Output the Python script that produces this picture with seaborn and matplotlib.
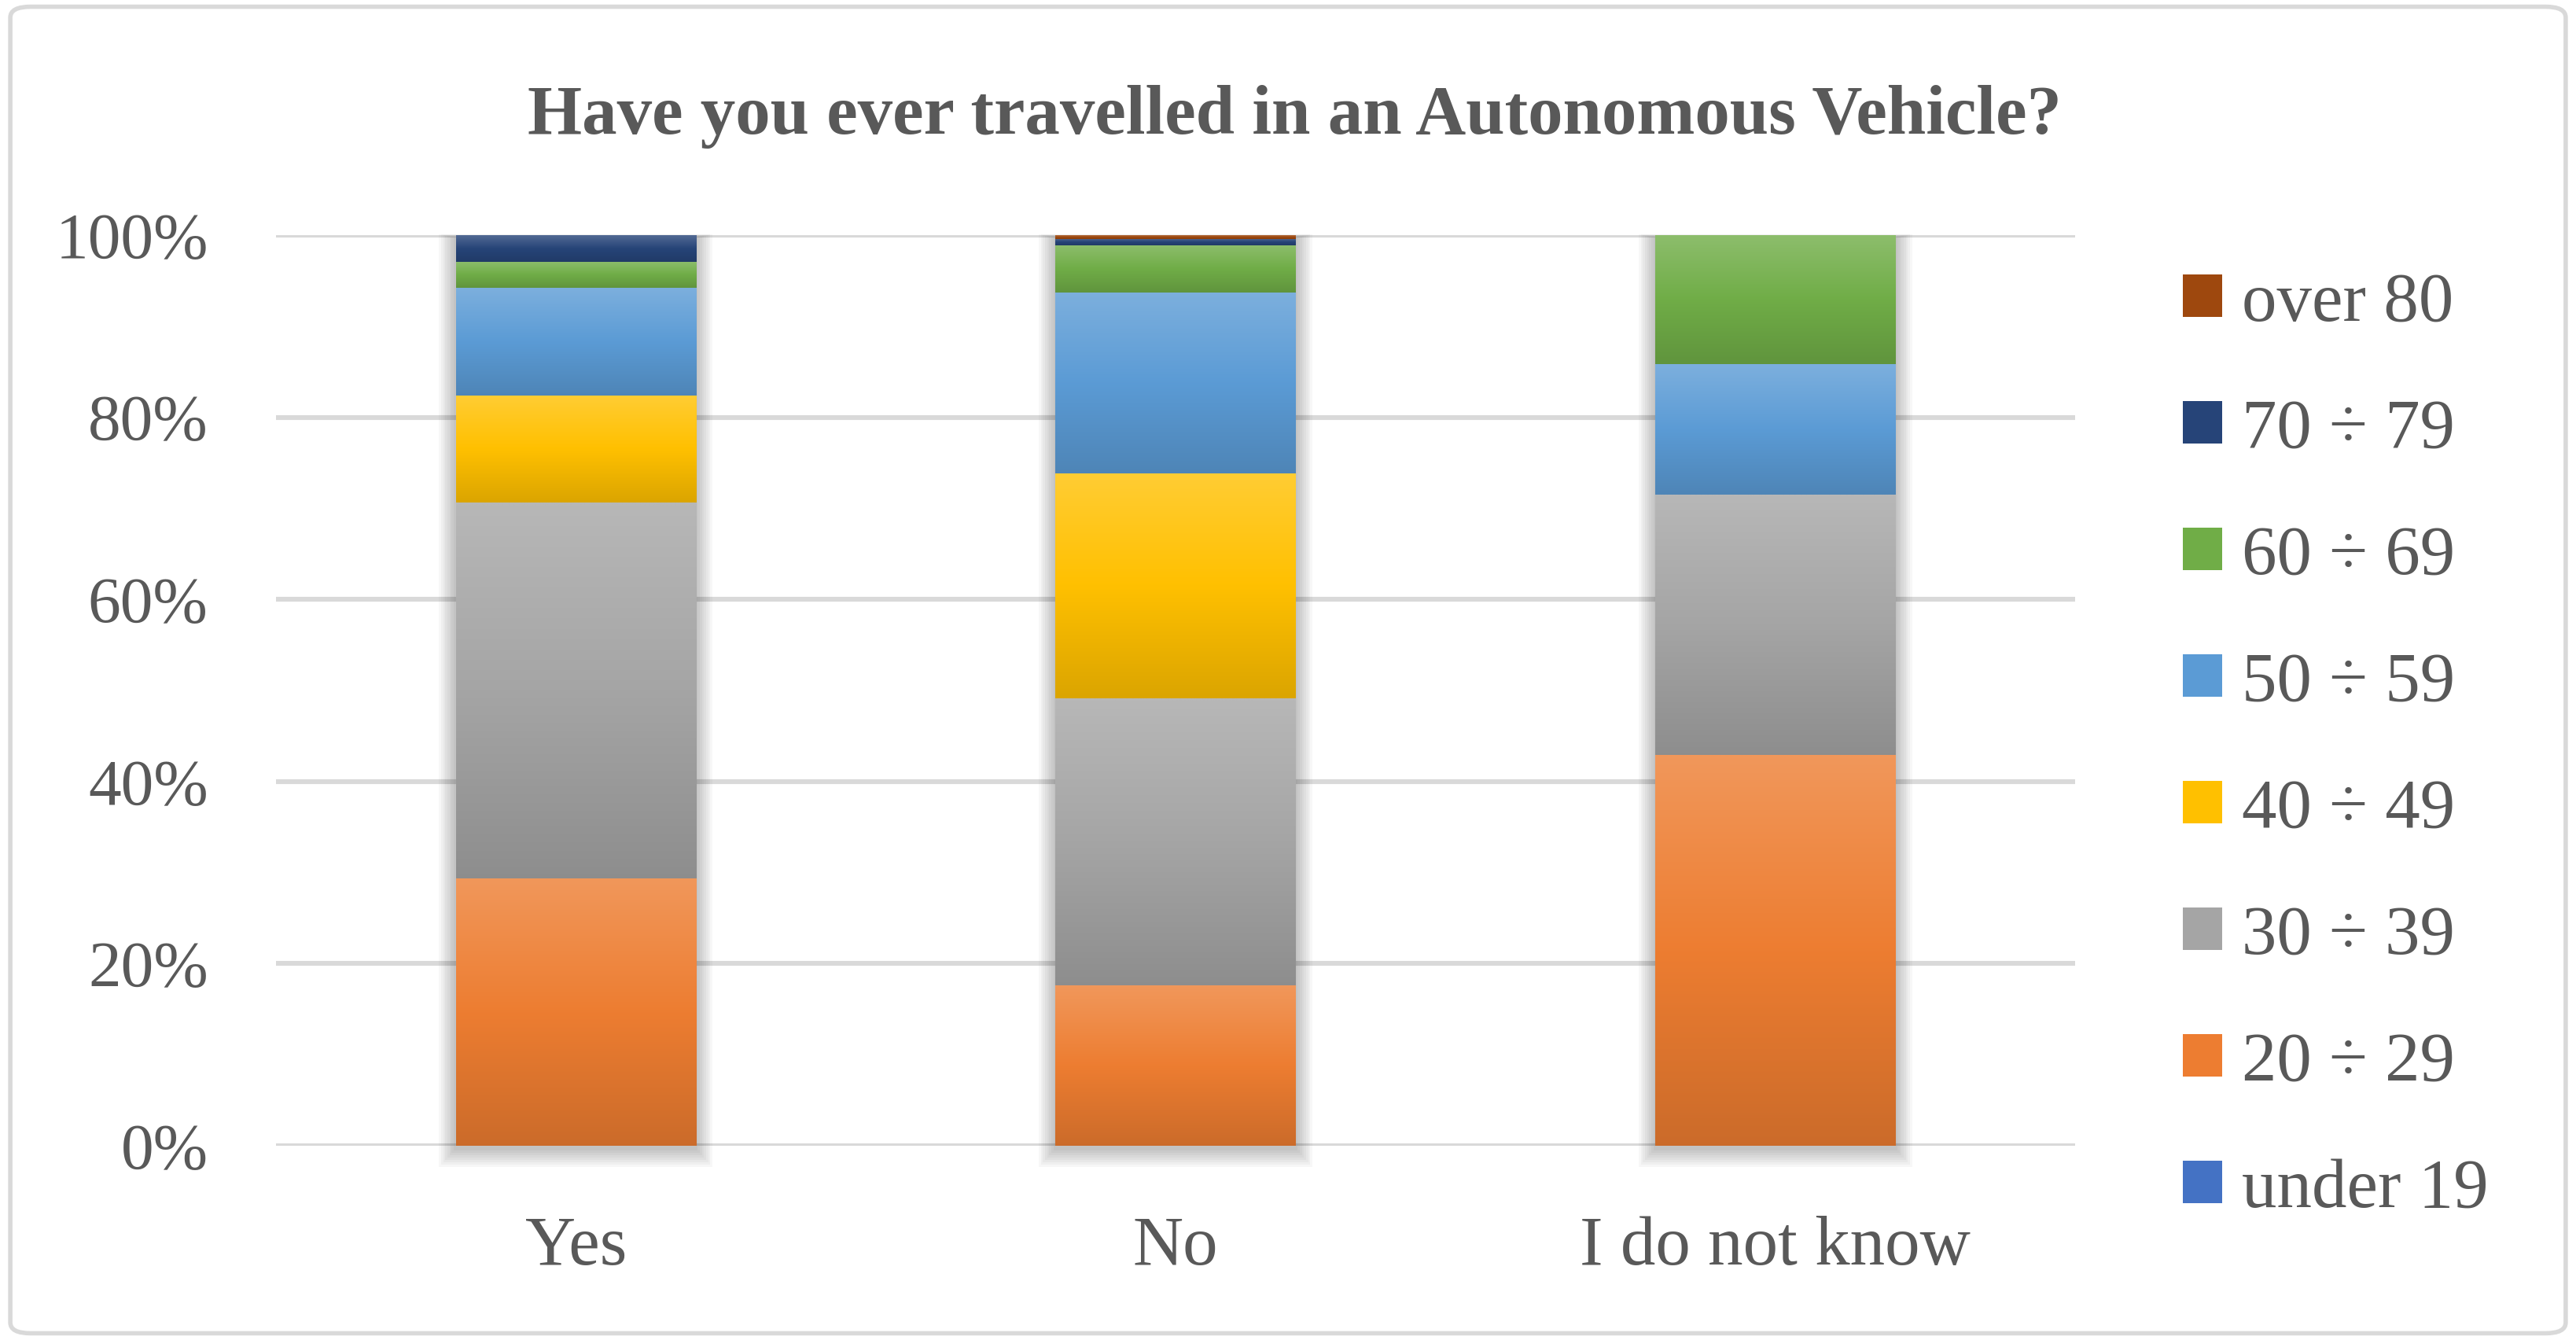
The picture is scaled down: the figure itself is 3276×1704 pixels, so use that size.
import numpy as np
import pandas as pd
import matplotlib
matplotlib.use("Agg")
import matplotlib.pyplot as plt
import seaborn as sns
from matplotlib.patches import FancyBboxPatch, Rectangle, Patch
from matplotlib.colors import to_rgb
from matplotlib.ticker import FuncFormatter

# ---------------- data (percent of respondents) ----------------
answers = ["Yes", "No", "I do not know"]
age_groups = ["under 19", "20 ÷ 29", "30 ÷ 39", "40 ÷ 49",
              "50 ÷ 59", "60 ÷ 69", "70 ÷ 79", "over 80"]
under_19 = [0.0, 0.0, 0.0]
age_20_29 = [29.4, 17.6, 42.9]
age_30_39 = [41.2, 31.5, 28.6]
age_40_49 = [11.8, 24.7, 0.0]
age_50_59 = [11.8, 19.9, 14.3]
age_60_69 = [2.9, 5.2, 14.2]
age_70_79 = [2.9, 0.7, 0.0]
over_80 = [0.0, 0.4, 0.0]
series = [under_19, age_20_29, age_30_39, age_40_49,
          age_50_59, age_60_69, age_70_79, over_80]
colors = ["#4472C4", "#ED7D31", "#A5A5A5", "#FFC000",
          "#5B9BD5", "#70AD47", "#264478", "#9E480E"]
yticks = [0, 20, 40, 60, 80, 100]
title = "Have you ever travelled in an Autonomous Vehicle?"

TXT = "#595959"
GRID = "#D9D9D9"
FONT = ["Liberation Serif", "DejaVu Serif"]

sns.set_theme(style="white")
plt.rcParams["font.family"] = FONT

fig = plt.figure(figsize=(16.38, 8.52), dpi=200)
ax = fig.add_axes([0.1071, 0.1450, 0.6985, 0.6795])

bottom = np.zeros(len(answers))
for name, vals, col in zip(age_groups, series, colors):
    df = pd.DataFrame({"answer": answers, "pct": vals})
    sns.barplot(data=df, x="answer", y="pct", order=answers, color=col,
                saturation=1, width=0.4, bottom=bottom.copy(),
                errorbar=None, linewidth=0, zorder=3, ax=ax)
    bottom += np.array(vals)

# gradient fill on each segment (lighter top, darker bottom)
def grad_colors(base, n=64):
    b = np.array(to_rgb(base))
    top = b + (1 - b) * 0.2
    bot = b * 0.86
    t = np.linspace(0, 1, n)[:, None]
    upper = top + (b - top) * np.clip(t * 2, 0, 1)
    lower = b + (bot - b) * np.clip(t * 2 - 1, 0, 1)
    out = np.where(t < 0.5, upper, lower)
    return out[:, None, :]

patches = [p for p in ax.patches if isinstance(p, Rectangle)]
extents = {}
for p in patches:
    h = p.get_height()
    if h <= 0:
        continue
    x, y, w = p.get_x(), p.get_y(), p.get_width()
    img = grad_colors(p.get_facecolor()[:3])
    im = ax.imshow(img, extent=(x, x + w, y, y + h), origin="upper",
                   aspect="auto", zorder=3.1, interpolation="bilinear")
    im.set_clip_path(p)
    key = round(x + w / 2, 3)
    lo, hi, xl, xr = extents.get(key, (1e9, -1e9, x, x + w))
    extents[key] = (min(lo, y), max(hi, y + h), xl, xr)

# soft shadow behind each stacked bar
for key, (lo, hi, xl, xr) in extents.items():
    for k in range(1, 9):
        dx = 0.0035 * k
        dy = 0.25 * k
        ax.add_patch(Rectangle((xl - dx, lo - dy - 0.3), (xr - xl) + 2 * dx,
                               (hi - lo) + dy * 1.2, facecolor="black",
                               edgecolor="none", alpha=0.03, zorder=2,
                               clip_on=False))

ax.set_xlim(-0.5, 2.5)
ax.set_ylim(0, 100)
ax.set_yticks(yticks)
ax.yaxis.set_major_formatter(FuncFormatter(lambda v, _: f"{v:.0f}%"))
ax.set_xlabel("")
ax.set_ylabel("")
ax.yaxis.grid(True, color=GRID, linewidth=2.2, zorder=0)
ax.xaxis.grid(False)
ax.set_axisbelow(True)
for s in ax.spines.values():
    s.set_visible(False)
ax.tick_params(axis="y", length=0, pad=31, labelsize=30, labelcolor=TXT)
ax.tick_params(axis="x", length=0, pad=32, labelsize=32, labelcolor=TXT)
ax.set_facecolor("white")

fig.text(0.5026, 0.913, title, ha="center", va="center", fontsize=32,
         fontweight="bold", color=TXT)

handles = [Patch(facecolor=c, edgecolor="none") for c in colors][::-1]
labels = age_groups[::-1]
leg = fig.legend(handles, labels, loc="center left",
                 bbox_to_anchor=(0.8474, 0.443), frameon=False,
                 fontsize=32, labelspacing=0.90, handlelength=0.56,
                 handleheight=0.56, handletextpad=0.28, borderpad=0,
                 borderaxespad=0)
for t in leg.get_texts():
    t.set_color(TXT)

fig.add_artist(FancyBboxPatch((0.004, 0.005), 0.992, 0.99,
                              boxstyle="round,pad=0,rounding_size=0.008",
                              transform=fig.transFigure, fill=False,
                              edgecolor=GRID, linewidth=2))

fig.savefig("out.png", dpi=200, facecolor="white")
